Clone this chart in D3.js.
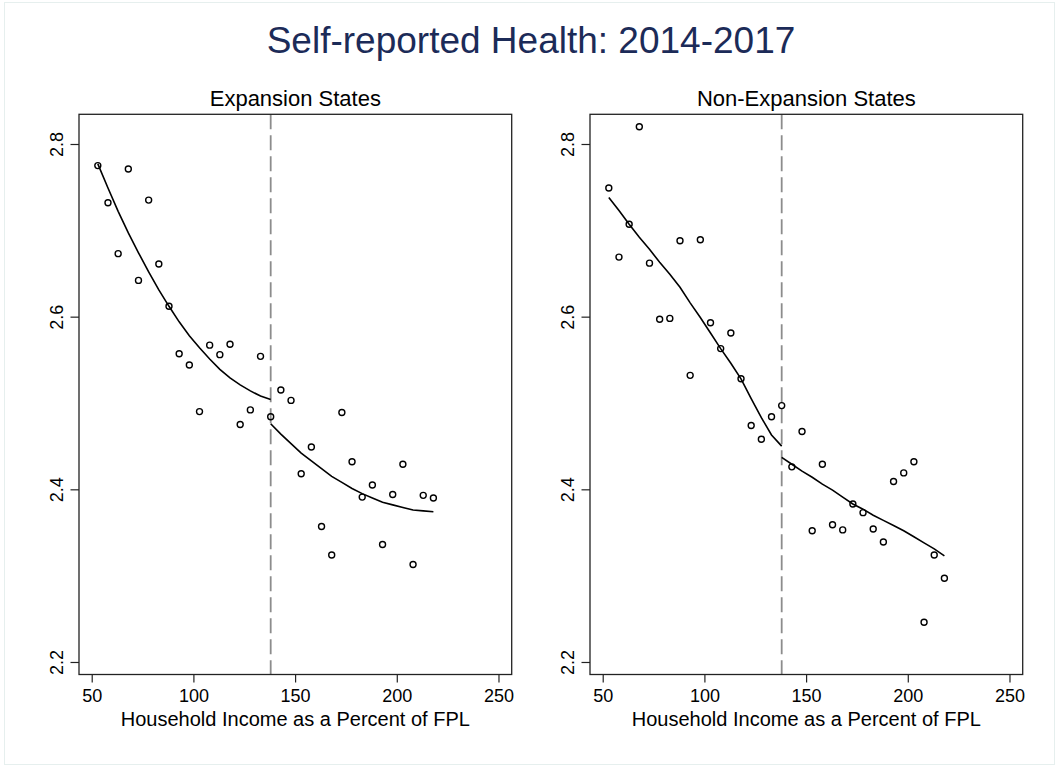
<!DOCTYPE html>
<html>
<head>
<meta charset="utf-8">
<script src="https://cdn.jsdelivr.net/npm/d3@7"></script>
<style>
  html, body { margin: 0; padding: 0; background: #ffffff; }
  svg { display: block; font-family: "Liberation Sans", Arial, Helvetica, sans-serif; }
</style>
</head>
<body>
<svg id="chart" width="1059" height="769"></svg>
<script>
// Income bins (percent of FPL) shared by both panels
const incomeBins = [53, 58, 63, 68, 73, 78, 83, 88, 93, 98, 103, 108, 113, 118, 123, 128, 133,
                    138, 143, 148, 153, 158, 163, 168, 173, 178, 183, 188, 193, 198, 203, 208, 213, 218];

// Mean self-reported health by bin
const expansionHealth = [2.775, 2.732, 2.673, 2.771, 2.642, 2.735, 2.661, 2.612, 2.557, 2.544, 2.490, 2.567,
                         2.556, 2.568, 2.475, 2.492, 2.554, 2.484, 2.515, 2.503, 2.418, 2.449, 2.357, 2.324,
                         2.489, 2.432, 2.391, 2.405, 2.336, 2.394, 2.429, 2.313, 2.393, 2.390];
const nonExpansionHealth = [2.749, 2.669, 2.707, 2.820, 2.662, 2.597, 2.598, 2.688, 2.532, 2.689, 2.593, 2.563,
                            2.581, 2.528, 2.474, 2.458, 2.484, 2.497, 2.426, 2.467, 2.352, 2.429, 2.359, 2.353,
                            2.383, 2.373, 2.354, 2.339, 2.409, 2.419, 2.432, 2.246, 2.324, 2.297];

// Fitted values on each side of the eligibility cutoff (bins <= 138 and >= 138)
const expansionFitBelow = [2.777, 2.749, 2.722, 2.697, 2.674, 2.652, 2.631, 2.612, 2.594, 2.578, 2.564, 2.551,
                           2.539, 2.529, 2.521, 2.514, 2.508, 2.504];
const expansionFitAbove = [2.476, 2.464, 2.453, 2.442, 2.433, 2.424, 2.415, 2.408, 2.401, 2.395, 2.390, 2.385,
                           2.382, 2.379, 2.376, 2.375, 2.374];
const nonExpansionFitBelow = [2.738, 2.723, 2.707, 2.692, 2.678, 2.663, 2.649, 2.634, 2.616, 2.599, 2.581, 2.563,
                              2.546, 2.528, 2.505, 2.483, 2.463, 2.450];
const nonExpansionFitAbove = [2.437, 2.429, 2.421, 2.414, 2.406, 2.399, 2.391, 2.383, 2.377, 2.370, 2.364, 2.358,
                              2.352, 2.345, 2.338, 2.331, 2.323];

const cutoff = 138;
const xTicks = [50, 100, 150, 200, 250];
const yTicks = [2.2, 2.4, 2.6, 2.8];
const panelTitles = ["Expansion States", "Non-Expansion States"];
const chartTitle = "Self-reported Health: 2014-2017";
const xAxisTitle = "Household Income as a Percent of FPL";

const svg = d3.select("#chart");

// faint outer frame of the graph region
svg.append("rect")
  .attr("x", 4.5).attr("y", 2.5)
  .attr("width", 1050).attr("height", 762)
  .attr("fill", "#ffffff")
  .attr("stroke", "#e6efee").attr("stroke-width", 1);

svg.append("text")
  .attr("x", 531).attr("y", 53)
  .attr("text-anchor", "middle")
  .attr("font-size", 37)
  .attr("fill", "#1c2b58")
  .text(chartTitle);

const plotTop = 114.3, plotBottom = 674.5, plotWidth = 432.7;
const panelLefts = [79, 590];

const binsBelow = incomeBins.filter(d => d <= cutoff);
const binsAbove = incomeBins.filter(d => d >= cutoff);

const panels = [
  { title: panelTitles[0], values: expansionHealth, fits: [expansionFitBelow, expansionFitAbove] },
  { title: panelTitles[1], values: nonExpansionHealth, fits: [nonExpansionFitBelow, nonExpansionFitAbove] }
];

panels.forEach((p, i) => {
  const left = panelLefts[i];
  const x = d3.scaleLinear().domain([43.75, 256.5]).range([left, left + plotWidth]);
  const y = d3.scaleLinear().domain([2.1855, 2.8344]).range([plotBottom, plotTop]);
  const g = svg.append("g");

  // panel title
  g.append("text")
    .attr("x", left + plotWidth / 2).attr("y", 106)
    .attr("text-anchor", "middle")
    .attr("font-size", 22)
    .attr("fill", "#000")
    .text(p.title);

  // x axis
  const xa = g.append("g")
    .attr("transform", `translate(0,${plotBottom})`)
    .call(d3.axisBottom(x).tickValues(xTicks).tickSize(8).tickPadding(7).tickFormat(d3.format("d")));
  xa.select(".domain").remove();
  xa.selectAll(".tick line").attr("stroke", "#222").attr("stroke-width", 1.2);
  xa.selectAll(".tick text").attr("font-size", 18).attr("fill", "#000")
    .attr("font-family", "Liberation Sans, Arial, sans-serif");

  // y axis with vertical labels
  const ya = g.append("g")
    .attr("transform", `translate(${left},0)`)
    .call(d3.axisLeft(y).tickValues(yTicks).tickSize(8.5).tickFormat(d3.format(".1f")));
  ya.select(".domain").remove();
  ya.selectAll(".tick line").attr("stroke", "#222").attr("stroke-width", 1.2);
  ya.selectAll(".tick text")
    .attr("x", null).attr("dy", null)
    .attr("text-anchor", "middle")
    .attr("transform", "translate(-15.6,0) rotate(-90)")
    .attr("font-size", 18).attr("fill", "#000")
    .attr("font-family", "Liberation Sans, Arial, sans-serif");

  // axis title
  g.append("text")
    .attr("x", left + plotWidth / 2).attr("y", 725.5)
    .attr("text-anchor", "middle")
    .attr("font-size", 20)
    .attr("fill", "#000")
    .text(xAxisTitle);

  // cutoff line
  g.append("line")
    .attr("x1", x(cutoff)).attr("x2", x(cutoff))
    .attr("y1", plotTop).attr("y2", plotBottom)
    .attr("stroke", "#8c8c8c").attr("stroke-width", 1.8)
    .attr("stroke-dasharray", "15,6");

  // fitted lines
  const line = d3.line().x(d => x(d[0])).y(d => y(d[1]));
  [[binsBelow, p.fits[0]], [binsAbove, p.fits[1]]].forEach(([bx, fy]) => {
    g.append("path")
      .datum(bx.map((b, j) => [b, fy[j]]))
      .attr("d", line)
      .attr("fill", "none")
      .attr("stroke", "#000")
      .attr("stroke-width", 1.6);
  });

  // binned means
  g.append("g").selectAll("circle")
    .data(incomeBins.map((b, j) => [b, p.values[j]]))
    .join("circle")
    .attr("cx", d => x(d[0]))
    .attr("cy", d => y(d[1]))
    .attr("r", 3)
    .attr("fill", "none")
    .attr("stroke", "#000")
    .attr("stroke-width", 1.4);

  // plot frame
  g.append("rect")
    .attr("x", left).attr("y", plotTop)
    .attr("width", plotWidth).attr("height", plotBottom - plotTop)
    .attr("fill", "none")
    .attr("stroke", "#222").attr("stroke-width", 1.3);
});
</script>
</body>
</html>
